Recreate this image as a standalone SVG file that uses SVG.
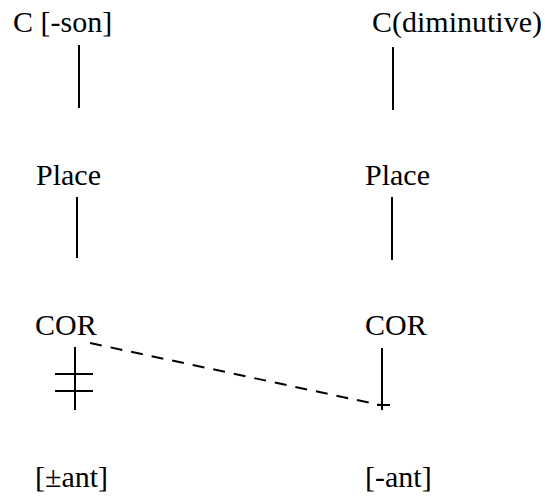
<svg xmlns="http://www.w3.org/2000/svg" width="545" height="496" viewBox="0 0 545 496">
<style>
.t{font-family:"Liberation Serif","Times New Roman",Times,serif;font-size:30px;fill:#000}
.ln{stroke:#000;stroke-width:2;fill:none}
.dash{stroke:#000;stroke-width:2;fill:none;stroke-dasharray:12 9}
</style>
<rect width="545" height="496" fill="#fff"/>
<g id="c-son"><text class="t" x="13" y="32">C [-son]</text></g>
<g id="c-dim"><text class="t" x="372" y="32">C(diminutive)</text></g>
<g id="place-l"><text class="t" x="36" y="185">Place</text></g>
<g id="place-r"><text class="t" x="365" y="185">Place</text></g>
<g id="cor-l"><text class="t" x="35" y="335">COR</text></g>
<g id="cor-r"><text class="t" x="365" y="335">COR</text></g>
<g id="ant-l"><text class="t" x="35" y="487">[±ant]</text></g>
<g id="ant-r"><text class="t" x="365" y="487">[-ant]</text></g>
<g id="connectors">
<line class="ln" x1="79" y1="45" x2="79" y2="108"/>
<line class="ln" x1="393" y1="47" x2="393" y2="110"/>
<line class="ln" x1="77" y1="197" x2="77" y2="258"/>
<line class="ln" x1="392" y1="197" x2="392" y2="260"/>
<line class="ln" x1="75" y1="347" x2="75" y2="410"/>
<line class="ln" x1="55" y1="374" x2="93" y2="374"/>
<line class="ln" x1="55" y1="391" x2="93" y2="391"/>
<line class="ln" x1="382" y1="348" x2="382" y2="410"/>
<line class="ln" x1="377" y1="405" x2="390" y2="405"/>
<line class="dash" x1="90" y1="343" x2="380" y2="405"/>
</g>
</svg>
